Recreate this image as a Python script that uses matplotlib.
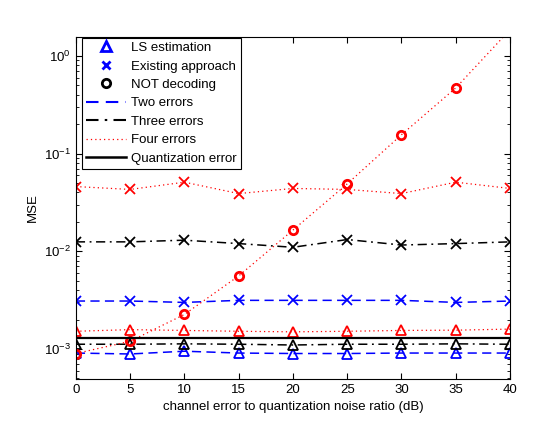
import numpy as np
import matplotlib.pyplot as plt
from matplotlib.lines import Line2D

plt.rcParams['font.family'] = ['Liberation Sans', 'DejaVu Sans']

snr = [0, 5, 10, 15, 20, 25, 30, 35, 40]

# Two errors (blue, dashed)
ls_two = [0.91e-3, 0.89e-3, 0.95e-3, 0.91e-3, 0.90e-3, 0.90e-3, 0.91e-3, 0.91e-3, 0.91e-3]
ex_two = [3.1e-3, 3.1e-3, 3.0e-3, 3.15e-3, 3.15e-3, 3.15e-3, 3.15e-3, 3.0e-3, 3.1e-3]

# Three errors (black, dash-dot)
ls_three = [1.12e-3, 1.12e-3, 1.13e-3, 1.12e-3, 1.10e-3, 1.12e-3, 1.12e-3, 1.13e-3, 1.12e-3]
ex_three = [0.0125, 0.0125, 0.013, 0.012, 0.011, 0.0132, 0.0116, 0.012, 0.0125]

# Four errors (red, dotted)
ls_four = [1.52e-3, 1.58e-3, 1.55e-3, 1.52e-3, 1.50e-3, 1.52e-3, 1.55e-3, 1.56e-3, 1.6e-3]
ex_four = [0.046, 0.043, 0.051, 0.039, 0.044, 0.043, 0.039, 0.051, 0.044]
not_four = [0.90e-3, 1.2e-3, 2.26e-3, 5.6e-3, 0.0165, 0.049, 0.156, 0.47, 1.85]

quant_err = 1.3e-3

fig = plt.figure(figsize=(5.58, 4.24), dpi=100)
ax = fig.add_axes([0.136, 0.106, 0.778, 0.807])

lw = 1.1
ms = 7
mew = 1.3
dash = (6, 3.5)
dashdot = (6, 3, 1.2, 3)
dot = (1, 2.5)

ax.plot(snr, ls_two, 'b^', ls='--', dashes=dash, lw=lw, ms=ms, mew=mew, mfc='none')
ax.plot(snr, ex_two, 'bx', ls='--', dashes=dash, lw=lw, ms=ms, mew=mew)
ax.plot(snr, ls_three, 'k^', ls='-.', dashes=dashdot, lw=lw, ms=ms, mew=mew, mfc='none')
ax.plot(snr, ex_three, 'kx', ls='-.', dashes=dashdot, lw=lw, ms=ms, mew=mew)
ax.plot(snr, ls_four, 'r^', ls=':', dashes=dot, lw=0.9, ms=ms, mew=mew, mfc='none')
ax.plot(snr, ex_four, 'rx', ls=':', dashes=dot, lw=0.9, ms=ms, mew=mew)
ax.plot(snr, not_four, 'ro', ls=':', dashes=dot, lw=0.9, ms=6, mew=2, mfc='none')
ax.axhline(quant_err, color='k', lw=1.6)

ax.set_yscale('log')
ax.set_xlim(0, 40)
ax.set_ylim(4.93e-4, 1.565)
ax.set_xticks(range(0, 41, 5))
ax.tick_params(which='both', direction='in', top=True, right=True, labelsize=9.5)
ax.tick_params(which='major', length=4)
ax.tick_params(which='minor', length=2)
ax.set_xlabel('channel error to quantization noise ratio (dB)', fontsize=9.5)
ax.set_ylabel('MSE', fontsize=9.5)

handles = [
    Line2D([], [], ls='none', marker='^', color='b', mfc='none', ms=7.5, mew=2),
    Line2D([], [], ls='none', marker='x', color='b', ms=6, mew=2),
    Line2D([], [], ls='none', marker='o', color='k', mfc='none', ms=6, mew=2),
    Line2D([], [], ls='--', dashes=dash, color='b', lw=1.5),
    Line2D([], [], ls='-.', dashes=dashdot, color='k', lw=1.5),
    Line2D([], [], ls=':', dashes=dot, color='r', lw=0.9),
    Line2D([], [], ls='-', color='k', lw=1.8),
]
labels = ['LS estimation', 'Existing approach', 'NOT decoding', 'Two errors',
          'Three errors', 'Four errors', 'Quantization error']
leg = ax.legend(handles, labels, loc='upper left', bbox_to_anchor=(0.014, 0.997),
                fontsize=9.5, fancybox=False, framealpha=1, edgecolor='k',
                borderaxespad=0, handlelength=3.0, labelspacing=0.47,
                borderpad=0.3, handletextpad=0.45)
leg.get_frame().set_linewidth(0.8)

fig.savefig('out.png', dpi=100)
